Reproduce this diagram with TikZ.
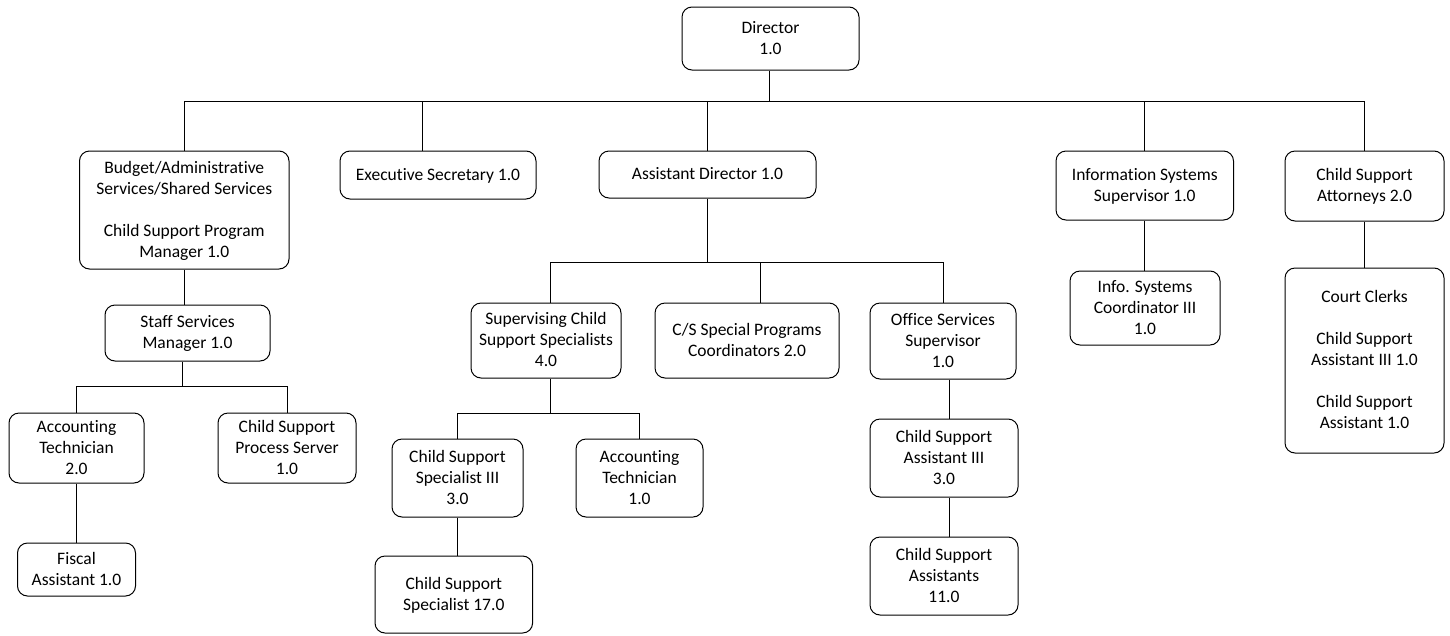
\documentclass[tikz,border=0pt]{standalone}
\usepackage{fontspec}
\setmainfont{Carlito}[Ligatures={CommonOff}]
\begin{document}
\begin{tikzpicture}[x=1pt,y=-1pt,
  box/.style={draw=black, line width=1pt, rounded corners=10pt, inner sep=0pt,
    align=center, font=\fontsize{17.5}{21}\selectfont, text depth=1.5pt},
  link/.style={draw=black, line width=0.9pt}]
\useasboundingbox (0,0) rectangle (1450,635);

% top level
\node[box, minimum width=177pt, minimum height=63pt] (dir) at (770.5,38.5) {Director\\1.0};

% second level
\node[box, minimum width=209.5pt, minimum height=118pt] (budget) at (184.25,210)
  {Budget/Administrative\\Services/Shared Services\\[21pt]Child Support Program\\Manager 1.0};
\node[box, minimum width=196pt, minimum height=48pt] (exec) at (438,175) {Executive Secretary 1.0};
\node[box, minimum width=217pt, minimum height=47pt] (asst) at (707.5,174.5) {Assistant Director 1.0};
\node[box, minimum width=177.5pt, minimum height=69pt] (infosup) at (1144.75,185.5) {Information Systems\\Supervisor 1.0};
\node[box, minimum width=159pt, minimum height=70pt] (atty) at (1364.5,186) {Child Support\\Attorneys 2.0};

% budget branch
\node[box, minimum width=165pt, minimum height=56pt] (staff) at (187.5,333) {Staff Services\\Manager 1.0};
\node[box, minimum width=135pt, minimum height=70pt] (acct2) at (76.5,448) {Accounting\\Technician\\2.0};
\node[box, minimum width=138pt, minimum height=70pt] (server) at (287,448) {Child Support\\Process Server\\1.0};
\node[box, minimum width=118pt, minimum height=53pt] (fiscal) at (76.5,569.5) {Fiscal\\Assistant 1.0};

% assistant director branch
\node[box, minimum width=150pt, minimum height=75pt] (scss) at (546,340.5) {Supervising Child\\Support Specialists\\4.0};
\node[box, minimum width=184pt, minimum height=75pt] (csprog) at (747,340.5) {C/S Special Programs\\Coordinators 2.0};
\node[box, minimum width=146pt, minimum height=76pt] (office) at (943,341) {Office Services\\Supervisor\\1.0};
\node[box, minimum width=131pt, minimum height=78pt] (css3) at (457.5,478) {Child Support\\Specialist III\\3.0};
\node[box, minimum width=127pt, minimum height=78pt] (acct1) at (639.5,478) {Accounting\\Technician\\1.0};
\node[box, minimum width=157.6pt, minimum height=77pt] (css17) at (453.8,594.5) {Child Support\\Specialist 17.0};
\node[box, minimum width=148pt, minimum height=78pt] (csa3) at (944,458) {Child Support\\Assistant III\\3.0};
\node[box, minimum width=148pt, minimum height=78pt] (csa11) at (944,576) {Child Support\\Assistants\\11.0};

% information systems and attorneys branches
\node[box, minimum width=150pt, minimum height=74pt] (infocoord) at (1145,308) {Info. Systems\\Coordinator III\\1.0};
\node[box, minimum width=159pt, minimum height=185pt] (clerks) at (1364.5,360.5)
  {Court Clerks\\[21pt]Child Support\\Assistant III 1.0\\[21pt]Child Support\\Assistant 1.0};

% director bus
\coordinate (dbus) at (769,101);
\draw[link] ([xshift=-1.5pt]dir.south) -- (dbus);
\draw[link] (dbus) -| (budget.north);
\draw[link] (dbus) -| ([xshift=-16pt]exec.north);
\draw[link] (dbus) -| ([xshift=-0.5pt]asst.north);
\draw[link] (dbus) -| ([xshift=-0.75pt]infosup.north);
\draw[link] (dbus) -| (atty.north);

% budget branch connectors
\draw[link] (budget.south) -- (budget.south |- staff.north);
\coordinate (sbus) at (182,386.7);
\draw[link] ([xshift=-5.5pt]staff.south) -- (sbus);
\draw[link] (sbus) -| (acct2.north);
\draw[link] (sbus) -| (server.north);
\draw[link] (acct2.south) -- (fiscal.north);

% assistant director branch connectors
\coordinate (abus) at (707,262);
\draw[link] ([xshift=-0.5pt]asst.south) -- (abus);
\draw[link] (abus) -| ([xshift=4pt]scss.north);
\draw[link] (abus) -| ([xshift=13pt]csprog.north);
\draw[link] (abus) -| (office.north);
\coordinate (scbus) at (550,413);
\draw[link] ([xshift=4pt]scss.south) -- (scbus);
\draw[link] (scbus) -| (css3.north);
\draw[link] (scbus) -| (acct1.north);
\draw[link] (css3.south) -- (css3.south |- css17.north);
\draw[link] ([xshift=5pt]csa3.north |- office.south) -- ([xshift=5pt]csa3.north);
\draw[link] ([xshift=5pt]csa3.south) -- ([xshift=5pt]csa11.north);

% information systems and attorneys connectors
\draw[link] (infosup.south) -- (infosup.south |- infocoord.north);
\draw[link] (atty.south) -- (clerks.north);
\end{tikzpicture}
\end{document}
